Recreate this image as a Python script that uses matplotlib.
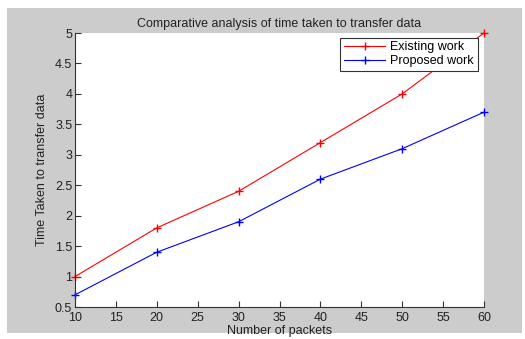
import matplotlib
matplotlib.use("Agg")
import matplotlib.pyplot as plt
from matplotlib.patches import Rectangle

# values
packets = [10, 20, 30, 40, 50, 60]
existing_work = [1.0, 1.8, 2.4, 3.2, 4.0, 5.0]
proposed_work = [0.7, 1.4, 1.9, 2.6, 3.1, 3.7]
x_ticks = [10, 15, 20, 25, 30, 35, 40, 45, 50, 55, 60]
y_ticks = [0.5, 1, 1.5, 2, 2.5, 3, 3.5, 4, 4.5, 5]

plt.rcParams['font.family'] = ['Liberation Sans', 'DejaVu Sans']

W, H = 525, 339
fig = plt.figure(figsize=(W / 100, H / 100), dpi=100)
fig.patch.set_facecolor("white")

# grey matlab-style figure background, kept behind the axes
bg = Rectangle((7 / W, 6 / H), 515 / W, 325 / H, transform=fig.transFigure,
               facecolor="#cccccc", edgecolor="none", zorder=-10)
fig.add_artist(bg)

ax = fig.add_axes([75 / W, 32 / H, 409 / W, 274 / H])
ax.set_zorder(1)
ax.set_facecolor("white")

ax.plot(packets, existing_work, color="red", marker="+", markersize=6,
        markeredgewidth=1, linewidth=0.8, label="Existing work", clip_on=False)
ax.plot(packets, proposed_work, color="blue", marker="+", markersize=6,
        markeredgewidth=1, linewidth=0.8, label="Proposed work", clip_on=False)

ax.set_xlim(10, 60)
ax.set_ylim(0.5, 5)
ax.set_xticks(x_ticks)
ax.set_yticks(y_ticks)
ax.set_xticklabels([str(t) for t in x_ticks])
ax.set_yticklabels([f"{t:g}" for t in y_ticks])

for side in ["top", "right"]:
    ax.spines[side].set_visible(False)
for side in ["left", "bottom"]:
    ax.spines[side].set_color("#333333")
    ax.spines[side].set_linewidth(0.8)

ax.tick_params(direction="in", length=4, width=0.8, colors="#333333",
               labelsize=9, labelcolor="#222222")
ax.tick_params(axis="x", pad=3.5)
ax.tick_params(axis="y", pad=2)

ax.set_title("Comparative analysis of time taken to transfer data",
             fontsize=9, color="#222222", pad=4)
ax.set_xlabel("Number of packets", fontsize=9, color="#222222", labelpad=0.5)
ax.set_ylabel("Time Taken to transfer data", fontsize=9, color="#222222",
              labelpad=5)

leg = ax.legend(loc="upper right", bbox_to_anchor=(0.985, 0.983),
                fontsize=9, fancybox=False, framealpha=1, edgecolor="#333333",
                borderpad=0.3, labelspacing=0.15, handlelength=3.3,
                handletextpad=0.4, borderaxespad=0)
leg.get_frame().set_linewidth(0.8)

fig.savefig("out.png", dpi=100, facecolor=fig.get_facecolor())
